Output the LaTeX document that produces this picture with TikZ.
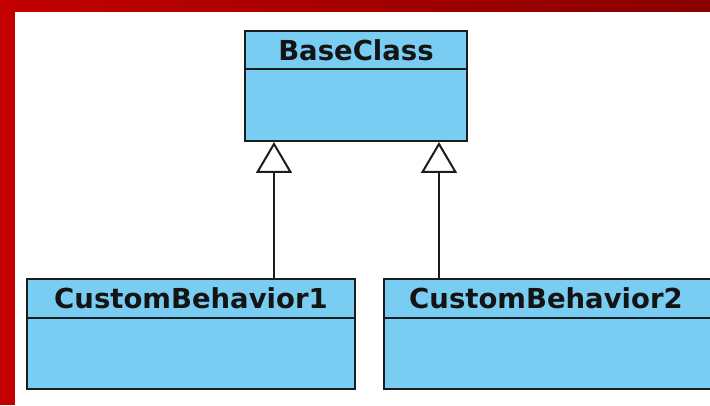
\documentclass[tikz,border=0pt]{standalone}
\usepackage{fontspec}
\setmainfont{DejaVu Sans}
\usetikzlibrary{arrows.meta,calc,shadows}
\definecolor{umlfill}{RGB}{121,205,242}
\definecolor{redL}{RGB}{194,0,0}
\definecolor{redR}{RGB}{136,0,0}
\definecolor{edge}{RGB}{28,28,28}
\tikzset{
  umlbox/.style={draw=edge, line width=2pt, fill=umlfill, rectangle, inner sep=0pt,
    minimum height=110pt, drop shadow={shadow xshift=1pt, shadow yshift=-1pt, opacity=0.35}},
  umltitle/.style={font=\bfseries\fontsize{27.5}{27.5}\selectfont, text=black!92, inner sep=0pt},
  divider/.style={draw=edge, line width=1.8pt},
  inherit/.style={draw=edge, line width=1.8pt, -{Triangle[open, length=31pt, width=36pt, line width=2pt]}}
}
\begin{document}
\begin{tikzpicture}[x=1pt,y=1pt]
\useasboundingbox (0,0) rectangle (710,405);
\fill[white] (0,0) rectangle (710,405);
\begin{scope}
\clip (0,0) rectangle (710,405);
% boxes
\node[umlbox, minimum width=222pt] (base) at (356,319) {};
\node[umlbox, minimum width=328pt] (cb1) at (191,71) {};
\node[umlbox, minimum width=331pt] (cb2) at (549.5,71) {};
% dividers
\draw[divider] ($(base.north west)+(0,-39)$) coordinate (bl) -- ($(base.north east)+(0,-39)$) coordinate (br);
\draw[divider] ($(cb1.north west)+(0,-40)$) coordinate (c1l) -- ($(cb1.north east)+(0,-40)$) coordinate (c1r);
\draw[divider] ($(cb2.north west)+(0,-40)$) coordinate (c2l) -- ($(cb2.north east)+(0,-40)$) coordinate (c2r);
% titles
\node[umltitle] (tbase) at ($(base.north)+(0,-20)$) {BaseClass};
\node[umltitle] (tcb1) at ($(cb1.north)+(0,-20)$) {CustomBehavior1};
\node[umltitle] (tcb2) at ($(cb2.north west)+(163,-20)$) {CustomBehavior2};
% connectors
\coordinate (p1) at ($(base.south)+(-82,0)$);
\coordinate (p2) at ($(base.south)+(83,0)$);
\draw[inherit] (cb1.north -| p1) -- (p1);
\draw[inherit] (cb2.north -| p2) -- (p2);
\end{scope}
% red frame
\shade[left color=redL, right color=redR] (0,393) rectangle (710,405);
\fill[redL] (0,0) rectangle (15,405);
\end{tikzpicture}
\end{document}
